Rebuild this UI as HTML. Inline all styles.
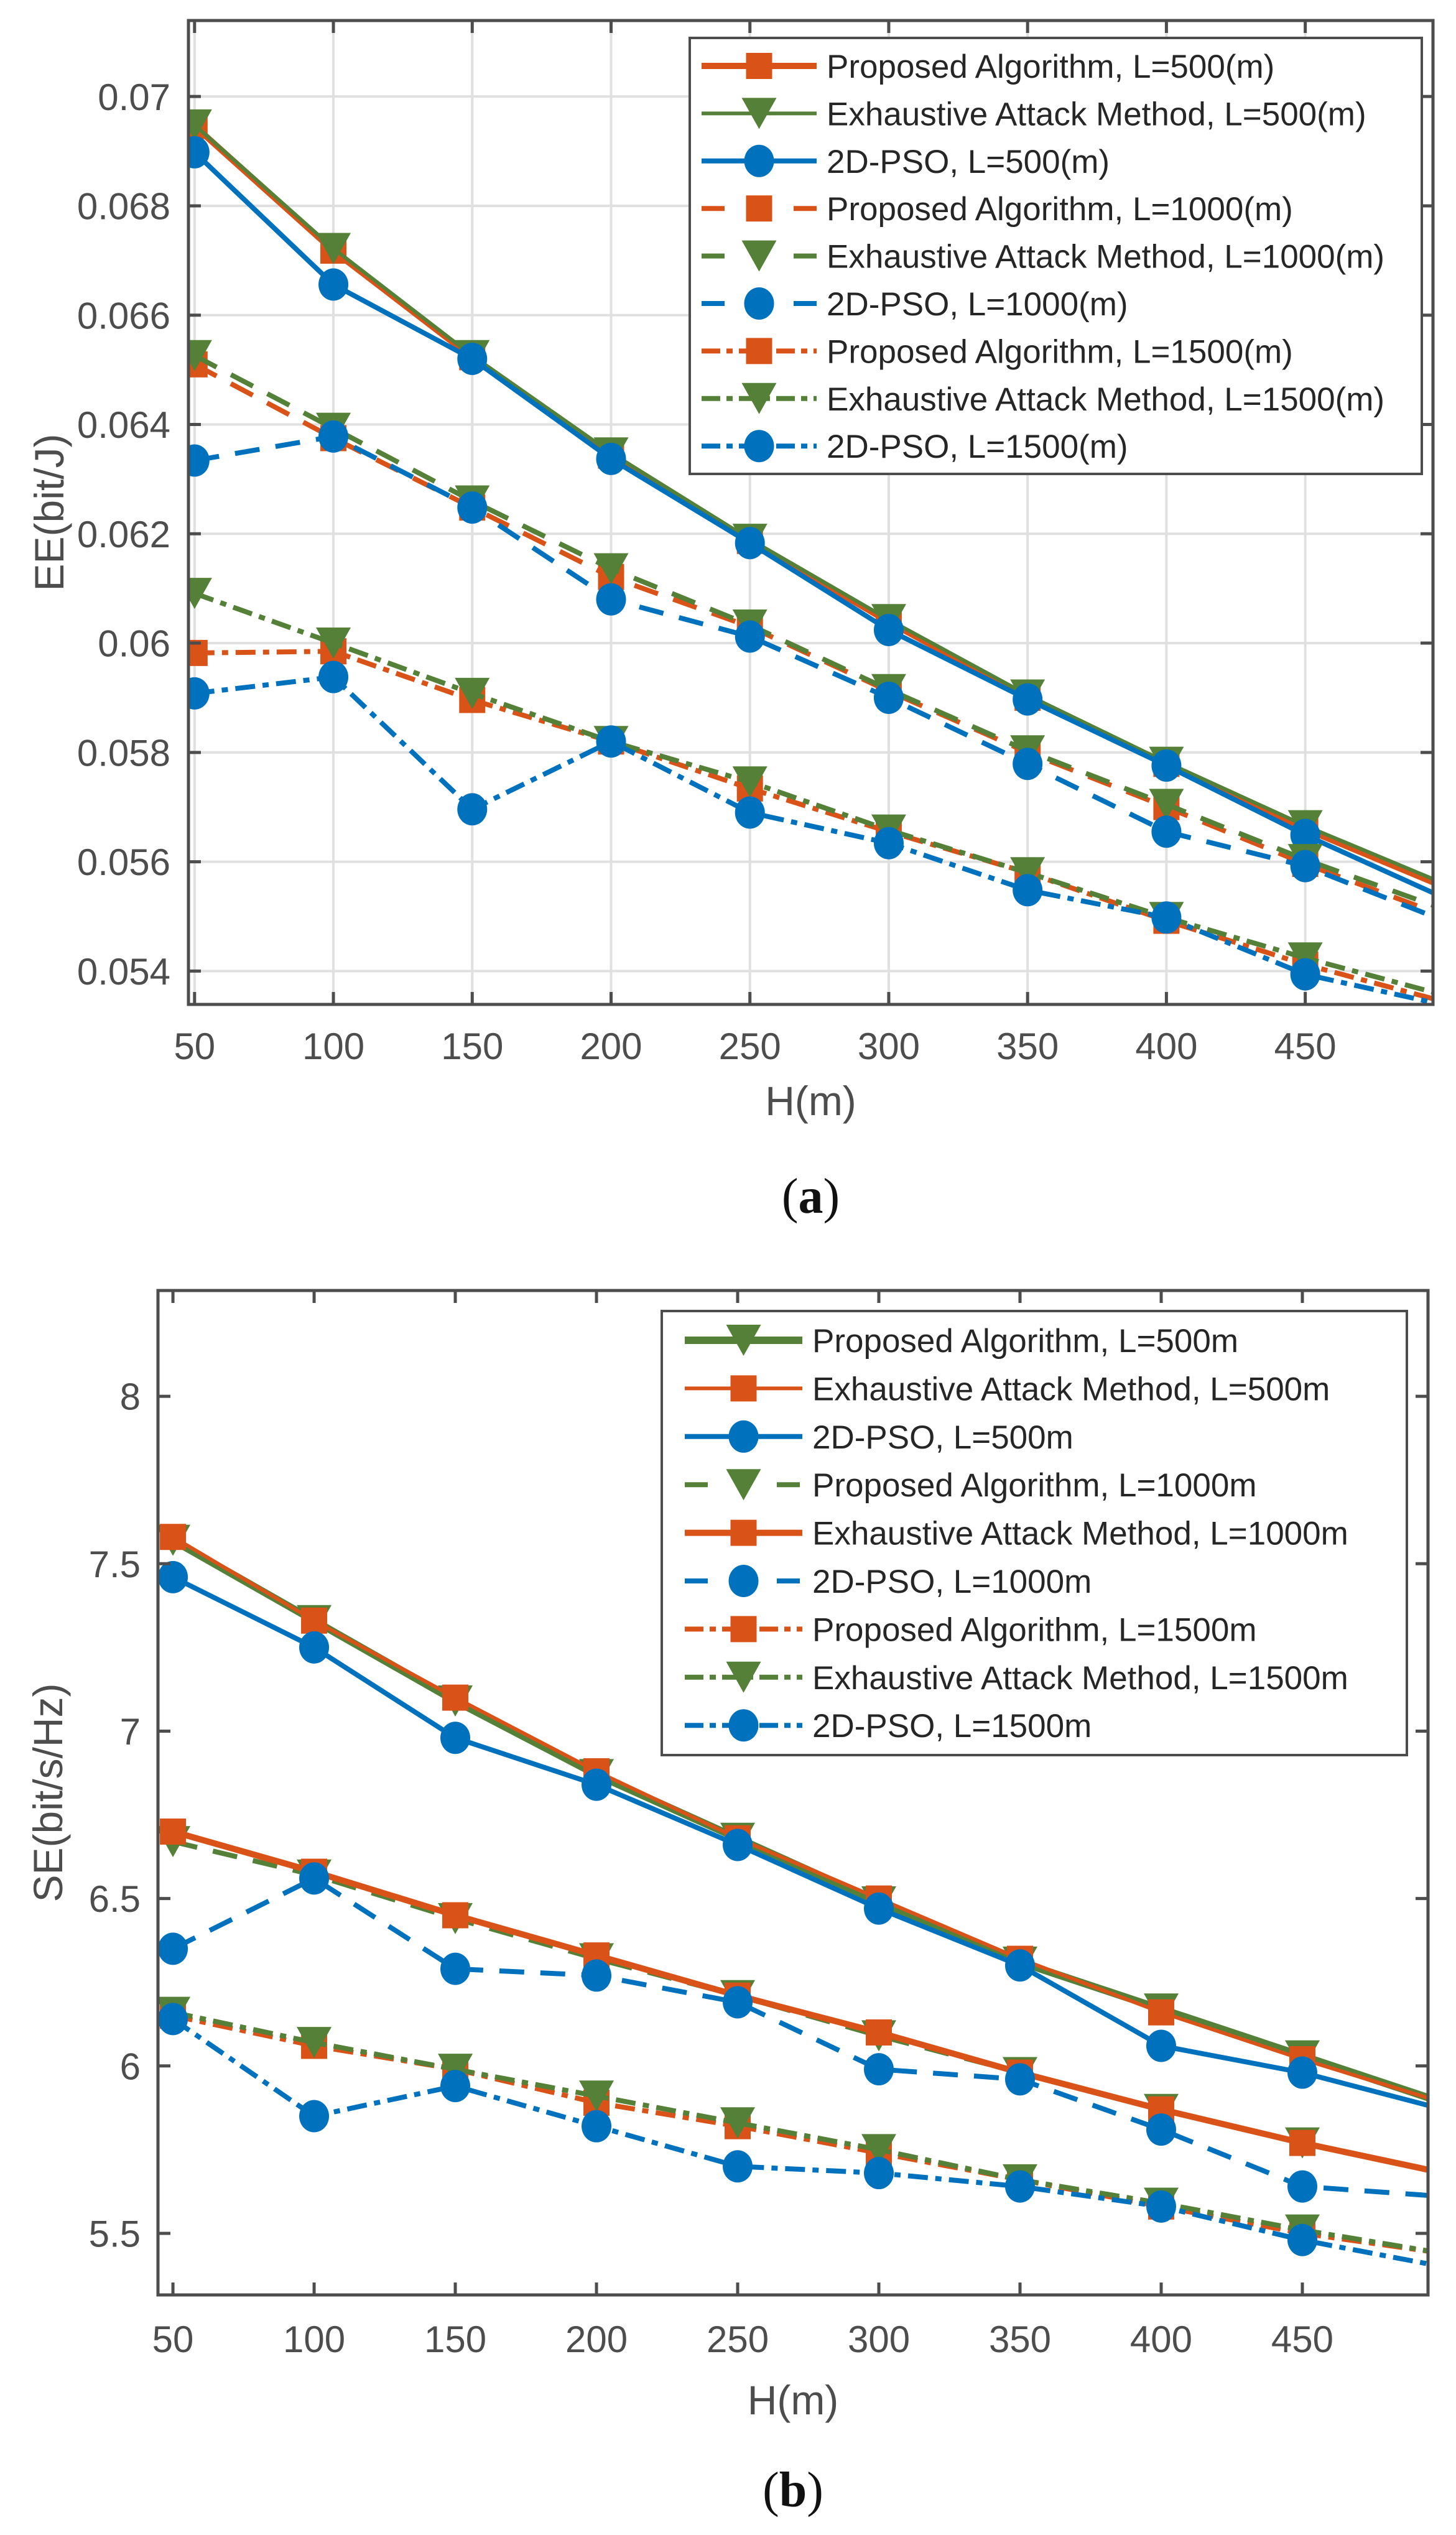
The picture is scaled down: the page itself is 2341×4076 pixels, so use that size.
<!DOCTYPE html>
<html><head><meta charset="utf-8"><style>
html,body{margin:0;padding:0;background:#fff;}
svg{display:block;font-family:"Liberation Sans",Arial,sans-serif;}
</style></head><body>
<svg id="fig" width="2341" height="4076" viewBox="0 0 2341 4076" xmlns="http://www.w3.org/2000/svg">
<defs>
<clipPath id="clipA"><rect x="303" y="33" width="2001" height="1582"/></clipPath>
<clipPath id="clipB"><rect x="254" y="2075" width="2042" height="1615"/></clipPath>
</defs>
</svg>
<script>
// ---- shared data ----
const hValues = [50,100,150,200,250,300,350,400,450,500];
const xTickLabels = [50,100,150,200,250,300,350,400,450];
// ---- chart (a) EE ----
const eeTicks = [0.054,0.056,0.058,0.06,0.062,0.064,0.066,0.068,0.07];
const eePA500  = [0.06946,0.06718,0.06523,0.06343,0.06187,0.06039,0.05900,0.05779,0.05660,0.05554];
const eeEAM500 = [0.06948,0.06722,0.06526,0.06348,0.06190,0.06043,0.05905,0.05782,0.05666,0.05560];
const eePSO500 = [0.06898,0.06656,0.06520,0.06337,0.06183,0.06024,0.05897,0.05776,0.05649,0.05534];
const eePA1000 = [0.06510,0.06375,0.06248,0.06121,0.06030,0.05912,0.05800,0.05700,0.05596,0.05501];
const eeEAM1000= [0.06526,0.06393,0.06260,0.06136,0.06033,0.05915,0.05803,0.05705,0.05604,0.05513];
const eePSO1000= [0.06334,0.06378,0.06248,0.06080,0.06012,0.05900,0.05779,0.05655,0.05592,0.05492];
const eePA1500 = [0.05982,0.05985,0.05896,0.05820,0.05734,0.05655,0.05580,0.05492,0.05412,0.05344];
const eeEAM1500= [0.06091,0.06000,0.05908,0.05820,0.05746,0.05658,0.05580,0.05498,0.05424,0.05356];
const eePSO1500= [0.05908,0.05938,0.05696,0.05820,0.05690,0.05634,0.05548,0.05498,0.05394,0.05338];
const eeLegend = ["Proposed Algorithm, L=500(m)","Exhaustive Attack Method, L=500(m)","2D-PSO, L=500(m)","Proposed Algorithm, L=1000(m)","Exhaustive Attack Method, L=1000(m)","2D-PSO, L=1000(m)","Proposed Algorithm, L=1500(m)","Exhaustive Attack Method, L=1500(m)","2D-PSO, L=1500(m)"];
// ---- chart (b) SE ----
const seTicks = [5.5,6,6.5,7,7.5,8];
const sePA500  = [7.57,7.33,7.09,6.87,6.68,6.49,6.31,6.17,6.03,5.89];
const seEAM500 = [7.58,7.33,7.10,6.88,6.68,6.50,6.32,6.16,6.02,5.89];
const sePSO500 = [7.46,7.25,6.98,6.84,6.66,6.47,6.30,6.06,5.98,5.87];
const sePA1000 = [6.67,6.57,6.44,6.32,6.21,6.09,5.98,5.87,5.77,5.68];
const seEAM1000= [6.70,6.58,6.45,6.33,6.21,6.10,5.98,5.87,5.77,5.68];
const sePSO1000= [6.35,6.56,6.29,6.27,6.19,5.99,5.96,5.81,5.64,5.61];
const sePA1500 = [6.15,6.06,5.99,5.89,5.82,5.74,5.66,5.58,5.50,5.44];
const seEAM1500= [6.16,6.07,5.99,5.91,5.83,5.75,5.66,5.59,5.51,5.44];
const sePSO1500= [6.14,5.85,5.94,5.82,5.70,5.68,5.64,5.58,5.48,5.40];
const seLegend = ["Proposed Algorithm, L=500m","Exhaustive Attack Method, L=500m","2D-PSO, L=500m","Proposed Algorithm, L=1000m","Exhaustive Attack Method, L=1000m","2D-PSO, L=1000m","Proposed Algorithm, L=1500m","Exhaustive Attack Method, L=1500m","2D-PSO, L=1500m"];

const NS="http://www.w3.org/2000/svg";
const svg=document.getElementById('fig');
const OR="#D95319",GR="#548037",BL="#0072BD",AX="#4d4d4d";
const DASH="40 26", DASHDOT="32 12 10 12";
function mk(tag,attrs,parent){const e=document.createElementNS(NS,tag);for(const k in attrs)e.setAttribute(k,attrs[k]);(parent||svg).appendChild(e);return e;}

function marker(g,type,cx,cy,color){
  let m;
  if(type==='s'){m=mk('rect',{x:cx-21,y:cy-21,width:42,height:42,fill:color},g);}
  else if(type==='v'){m=mk('polygon',{points:(cx-28)+','+(cy-25)+' '+(cx+28)+','+(cy-25)+' '+cx+','+(cy+25),fill:color},g);}
  else {m=mk('ellipse',{cx:cx,cy:cy,rx:24,ry:26,fill:color},g);}
  
  
}

function drawChart(cfg){
  const P=cfg.plot;
  const xs=v=>P.x0+(v-cfg.xmin)/(cfg.xmax-cfg.xmin)*(P.x1-P.x0);
  const ys=v=>P.y1-(v-cfg.ymin)/(cfg.ymax-cfg.ymin)*(P.y1-P.y0);
  const g=mk('g',{});
  
  
  mk('rect',{x:P.x0,y:P.y0,width:P.x1-P.x0,height:P.y1-P.y0,fill:'#fff'},g);
  if(cfg.grid){
    xTickLabels.forEach(v=>{const l=mk('line',{x1:xs(v),x2:xs(v),y1:P.y0,y2:P.y1,stroke:'#e0e0e0','stroke-width':4},g);});
    cfg.yticks.forEach(v=>{const l=mk('line',{x1:P.x0,x2:P.x1,y1:ys(v),y2:ys(v),stroke:'#e0e0e0','stroke-width':4},g);});
  }
  const sg=mk('g',{'clip-path':'url(#'+cfg.clip+')'},g);
  cfg.series.forEach(s=>{
    const pts=hValues.map((h,i)=>xs(h)+','+ys(s.data[i])).join(' ');
    const pl=mk('polyline',{points:pts,fill:'none',stroke:s.color,'stroke-width':s.w,'stroke-dasharray':s.dash||'none','stroke-linejoin':'round'},sg);
    
    
    hValues.forEach((h,i)=>{ if(h<=450) marker(sg,s.m,xs(h),ys(s.data[i]),s.color); });
  });
  const box=mk('rect',{x:P.x0,y:P.y0,width:P.x1-P.x0,height:P.y1-P.y0,fill:'none',stroke:AX,'stroke-width':5},g);
  
  
  xTickLabels.forEach(v=>{
    const x=xs(v);
    mk('line',{x1:x,x2:x,y1:P.y1,y2:P.y1-20,stroke:AX,'stroke-width':5},g);
    mk('line',{x1:x,x2:x,y1:P.y0,y2:P.y0+20,stroke:AX,'stroke-width':5},g);
    const t=mk('text',{x:x,y:cfg.xlabY,'text-anchor':'middle','font-size':cfg.fs,fill:AX},g);
    t.textContent=v;
    
    
  });
  cfg.yticks.forEach(v=>{
    const y=ys(v);
    mk('line',{x1:P.x0,x2:P.x0+20,y1:y,y2:y,stroke:AX,'stroke-width':5},g);
    mk('line',{x1:P.x1,x2:P.x1-20,y1:y,y2:y,stroke:AX,'stroke-width':5},g);
    const t=mk('text',{x:cfg.ylabX,y:y+cfg.fs*0.36,'text-anchor':'end','font-size':cfg.fs,fill:AX},g);
    t.textContent=String(v);
    
    
  });
  const xt=mk('text',{x:(P.x0+P.x1)/2,y:cfg.xTitleY,'text-anchor':'middle','font-size':66,fill:AX},g);
  xt.textContent='H(m)';
  
  
  const yt=mk('text',{x:0,y:0,'text-anchor':'middle','font-size':66,fill:AX,transform:'translate('+cfg.yTitleX+','+(P.y0+P.y1)/2+') rotate(-90)'},g);
  yt.textContent=cfg.ytitle;
  
  
  const L=cfg.legend;
  const lg=mk('g',{},g);
  
  
  mk('rect',{x:L.x0,y:L.y0,width:L.x1-L.x0,height:L.y1-L.y0,fill:'#fff',stroke:AX,'stroke-width':4},lg);
  cfg.series.forEach((s,i)=>{
    const y=L.row0+i*L.dy;
    const eg=mk('g',{},lg);
    
    
    mk('line',{x1:L.lx0,x2:L.lx1,y1:y,y2:y,stroke:s.color,'stroke-width':s.w,'stroke-dasharray':s.ldash||'none'},eg);
    marker(eg,s.m,(L.lx0+L.lx1)/2,y,s.color);
    const t=mk('text',{x:L.tx,y:y+19,'font-size':53,fill:'#262626'},eg);
    t.textContent=cfg.labels[i];
  });
  const c=mk('text',{x:(P.x0+P.x1)/2,y:cfg.capY,'text-anchor':'middle','font-size':80,fill:'#111','font-family':'"Liberation Serif",serif'},svg);
  c.innerHTML='(<tspan font-weight="bold">'+cfg.cap+'</tspan>)';
  
  
}

drawChart({name:'ee-chart',clip:'clipA',grid:true,
  plot:{x0:303,x1:2304,y0:33,y1:1615},xmin:47.8,xmax:496,ymin:0.05339,ymax:0.07139,
  yticks:eeTicks,fs:60,xlabY:1703,ylabX:274,xTitleY:1793,yTitleX:102,ytitle:'EE(bit/J)',
  capY:1950,cap:'a',labels:eeLegend,
  legend:{x0:1109,x1:2286,y0:61,y1:762,row0:106,dy:76.4,lx0:1128,lx1:1313,tx:1329},
  series:[
    {data:eePA500,color:OR,w:10,m:'s'},
    {data:eeEAM500,color:GR,w:6,m:'v'},
    {data:eePSO500,color:BL,w:8,m:'o'},
    {data:eePA1000,color:OR,w:8,m:'s',dash:DASH,ldash:'37 111 37'},
    {data:eeEAM1000,color:GR,w:8,m:'v',dash:DASH,ldash:'37 111 37'},
    {data:eePSO1000,color:BL,w:8,m:'o',dash:DASH,ldash:'37 111 37'},
    {data:eePA1500,color:OR,w:8,m:'s',dash:DASHDOT,ldash:'30 10 10 10'},
    {data:eeEAM1500,color:GR,w:8,m:'v',dash:DASHDOT,ldash:'30 10 10 10'},
    {data:eePSO1500,color:BL,w:8,m:'o',dash:DASHDOT,ldash:'30 10 10 10'}
  ]});

drawChart({name:'se-chart',clip:'clipB',grid:false,
  plot:{x0:254,x1:2296,y0:2075,y1:3690},xmin:44.7,xmax:494.5,ymin:5.316,ymax:8.316,
  yticks:seTicks,fs:60,xlabY:3782,ylabX:226,xTitleY:3882,yTitleX:100,ytitle:'SE(bit/s/Hz)',
  capY:4030,cap:'b',labels:seLegend,
  legend:{x0:1064,x1:2262,y0:2108,y1:2822,row0:2155,dy:77.4,lx0:1101,lx1:1290,tx:1306},
  series:[
    {data:sePA500,color:GR,w:12,m:'v'},
    {data:seEAM500,color:OR,w:6,m:'s'},
    {data:sePSO500,color:BL,w:8,m:'o'},
    {data:sePA1000,color:GR,w:8,m:'v',dash:DASH,ldash:'37 111 37'},
    {data:seEAM1000,color:OR,w:10,m:'s'},
    {data:sePSO1000,color:BL,w:8,m:'o',dash:DASH,ldash:'37 111 37'},
    {data:sePA1500,color:OR,w:8,m:'s',dash:DASHDOT,ldash:'30 10 10 10'},
    {data:seEAM1500,color:GR,w:8,m:'v',dash:DASHDOT,ldash:'30 10 10 10'},
    {data:sePSO1500,color:BL,w:8,m:'o',dash:DASHDOT,ldash:'30 10 10 10'}
  ]});
</script>
</body></html>
